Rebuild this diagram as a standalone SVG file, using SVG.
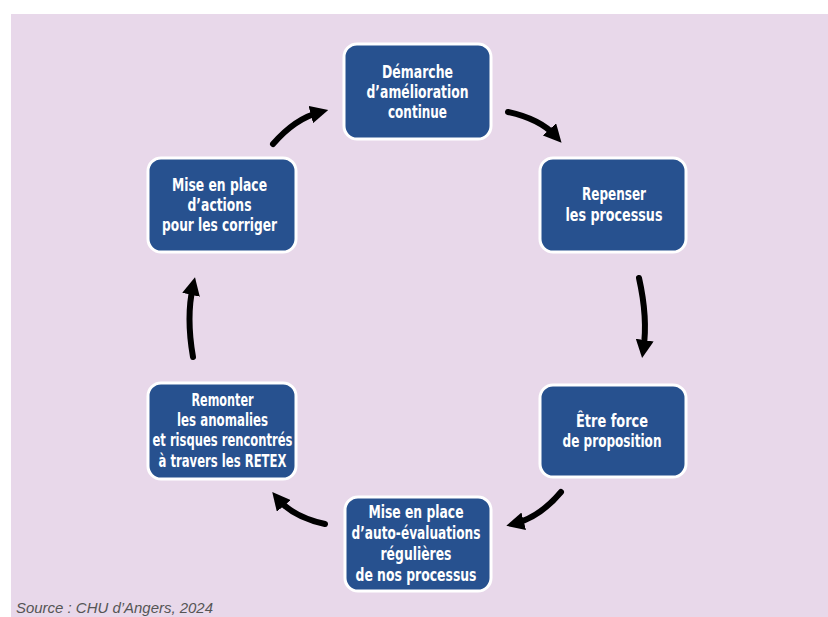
<svg xmlns="http://www.w3.org/2000/svg" width="828" height="617" viewBox="0 0 828 617">
<style>
.node rect{fill:#27518f;stroke:#ffffff;stroke-width:3}
.node text{fill:#ffffff;font-family:"DejaVu Sans Condensed","DejaVu Sans",sans-serif;font-weight:bold;font-size:18px;text-anchor:middle}
.conn path{fill:none;stroke:#000000;stroke-width:6;stroke-linecap:round}
.src{fill:#555555;font-family:"Liberation Sans",Arial,sans-serif;font-style:italic;font-size:14px}
</style>
<defs>
<marker id="ah" viewBox="0 0 10 10" refX="5" refY="5" markerWidth="18" markerHeight="18" markerUnits="userSpaceOnUse" orient="auto">
<path d="M0,0 L10,5 L0,10 z" fill="#000000"/>
</marker>
</defs>
<rect x="11" y="14" width="817" height="603" fill="#e8d8ea"/>
<g class="conn">
<path d="M508,112 Q540,119 555.5,136" marker-end="url(#ah)"/>
<path d="M639,278 Q648,318 643.4,349" marker-end="url(#ah)"/>
<path d="M561,492 Q540,517 515,523.5" marker-end="url(#ah)"/>
<path d="M325,524 Q293,517 278,499" marker-end="url(#ah)"/>
<path d="M193,357 Q186,317 193,286" marker-end="url(#ah)"/>
<path d="M273,144 Q295,118.5 319.5,112.3" marker-end="url(#ah)"/>
</g>
<g id="n1" class="node">
<rect x="344" y="44" width="147" height="95" rx="13"/>
<text x="417.5" y="78" textLength="71" lengthAdjust="spacingAndGlyphs">Démarche</text>
<text x="417.5" y="98" textLength="102" lengthAdjust="spacingAndGlyphs">d’amélioration</text>
<text x="417.5" y="118" textLength="59" lengthAdjust="spacingAndGlyphs">continue</text>
</g>
<g id="n2" class="node">
<rect x="540" y="158" width="146" height="94" rx="13"/>
<text x="614" y="200" textLength="64" lengthAdjust="spacingAndGlyphs">Repenser</text>
<text x="614" y="221" textLength="97" lengthAdjust="spacingAndGlyphs">les processus</text>
</g>
<g id="n3" class="node">
<rect x="540" y="385" width="146" height="92" rx="13"/>
<text x="612" y="427" textLength="72" lengthAdjust="spacingAndGlyphs">Être force</text>
<text x="612" y="447" textLength="99" lengthAdjust="spacingAndGlyphs">de proposition</text>
</g>
<g id="n4" class="node">
<rect x="345" y="497" width="146" height="94" rx="13"/>
<text x="416" y="518" textLength="95" lengthAdjust="spacingAndGlyphs">Mise en place</text>
<text x="416" y="539" textLength="129" lengthAdjust="spacingAndGlyphs">d’auto-évaluations</text>
<text x="416" y="560" textLength="71" lengthAdjust="spacingAndGlyphs">régulières</text>
<text x="416" y="581" textLength="121" lengthAdjust="spacingAndGlyphs">de nos processus</text>
</g>
<g id="n5" class="node">
<rect x="148" y="383" width="148" height="96" rx="13"/>
<text x="222.5" y="406" textLength="62" lengthAdjust="spacingAndGlyphs">Remonter</text>
<text x="222.5" y="426" textLength="91" lengthAdjust="spacingAndGlyphs">les anomalies</text>
<text x="222.5" y="446" textLength="140" lengthAdjust="spacingAndGlyphs">et risques rencontrés</text>
<text x="222.5" y="467" textLength="128" lengthAdjust="spacingAndGlyphs">à travers les RETEX</text>
</g>
<g id="n6" class="node">
<rect x="148" y="158" width="148" height="94" rx="13"/>
<text x="219.5" y="191" textLength="95" lengthAdjust="spacingAndGlyphs">Mise en place</text>
<text x="219.5" y="211" textLength="64" lengthAdjust="spacingAndGlyphs">d’actions</text>
<text x="219.5" y="231" textLength="115" lengthAdjust="spacingAndGlyphs">pour les corriger</text>
</g>
<text class="src" x="16" y="613" textLength="197" lengthAdjust="spacingAndGlyphs">Source : CHU d’Angers, 2024</text>
</svg>
